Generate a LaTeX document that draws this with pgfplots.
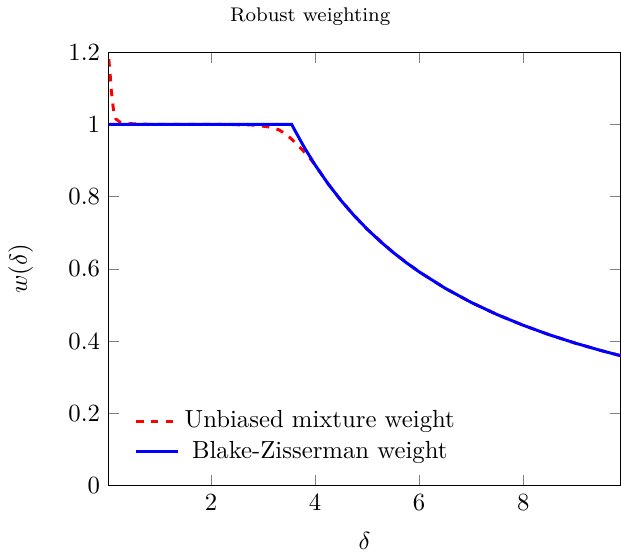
\documentclass[border=0pt]{standalone}
\usepackage{pgfplots}
\pgfplotsset{compat=1.18}

\begin{document}
\begin{tikzpicture}
  \begin{axis}[
      scale only axis,
      width=207pt, height=175.4pt,
      title={Robust weighting},
      title style={font=\footnotesize, xshift=-22pt, yshift=1pt},
      xlabel={$\delta$},
      ylabel={$w(\delta)$},
      ylabel shift=7.5pt,
      xlabel shift=2pt,
      xmin=0.035, xmax=9.87,
      ymin=0, ymax=1.2,
      xtick={2,4,6,8},
      ytick={0,0.2,0.4,0.6,0.8,1,1.2},
      legend pos=south west,
      legend style={draw=none, fill=none, at={(0.035,0.03)}},
      legend cell align=center,
    ]
    % unbiased mixture weight
    \addplot[color=red, dashed, very thick] coordinates {
        (0.035,1.18) (0.06,1.14) (0.08,1.10) (0.1,1.07) (0.13,1.035)
        (0.17,1.015) (0.25,1.006) (0.4,1.002) (0.8,1.0) (2,1.0)
        (2.8,0.998) (3.1,0.993) (3.3,0.985) (3.45,0.972) (3.6,0.952)
        (3.75,0.93) (3.9,0.906) (4.0,0.8875) (4.25,0.8353) (4.5,0.7889)
        (4.75,0.7474) (5,0.71) (5.5,0.6455) (6,0.5917) (6.5,0.5462)
        (7,0.5071) (7.5,0.4733) (8,0.4438) (8.5,0.4176) (9,0.3944)
        (9.5,0.3737) (9.87,0.3597)
      };
    \addlegendentry{Unbiased mixture weight}
    % Blake-Zisserman weight
    \addplot[color=blue, very thick] coordinates {
        (0.035,1) (3.55,1) (3.6,0.9861) (3.8,0.9342) (4.0,0.8875)
        (4.25,0.8353) (4.5,0.7889) (4.75,0.7474) (5,0.71) (5.25,0.6762)
        (5.5,0.6455) (5.75,0.6174) (6,0.5917) (6.5,0.5462) (7,0.5071)
        (7.5,0.4733) (8,0.4438) (8.5,0.4176) (9,0.3944) (9.5,0.3737)
        (9.87,0.3597)
      };
    \addlegendentry{Blake-Zisserman weight}
  \end{axis}
\end{tikzpicture}
\end{document}
